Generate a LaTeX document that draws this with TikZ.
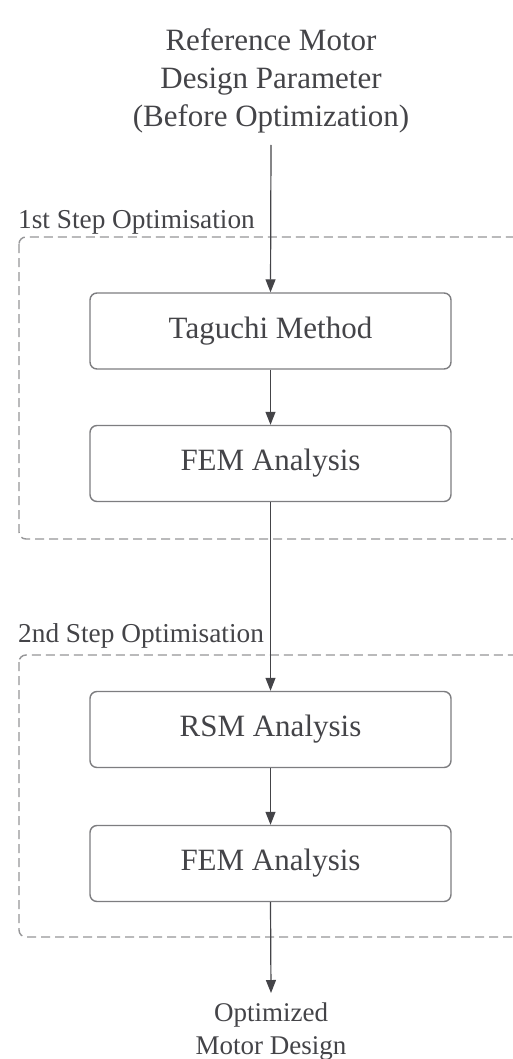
\documentclass[tikz,border=0pt]{standalone}
\usepackage{fontspec}
\setmainfont{Liberation Serif}
\usetikzlibrary{arrows.meta}
\definecolor{inkgray}{RGB}{68,68,72}
\definecolor{boxgray}{RGB}{125,125,128}
\definecolor{dashgray}{RGB}{150,150,152}
\tikzset{
  stepbox/.style={draw=boxgray, line width=1.4pt, rounded corners=7pt,
    minimum width=361pt, minimum height=76pt, inner sep=0pt,
    text=inkgray, font=\fontsize{31}{36}\selectfont},
  groupframe/.style={draw=dashgray, line width=1.4pt, dash pattern=on 9pt off 5pt,
    rounded corners=7pt},
  grouplabel/.style={anchor=base west, inner sep=0pt, text=inkgray,
    font=\fontsize{27.3}{32}\selectfont},
  flow/.style={draw=inkgray, line width=1.2pt,
    -{Triangle[length=13pt,width=10pt]}},
  plaintext/.style={inner sep=0pt, text=inkgray, align=center}
}
\begin{document}
\begin{tikzpicture}[x=1pt,y=1pt]
  \useasboundingbox[fill=white] (0,0) rectangle (513,-1059);

  % dashed frames of the two optimisation stages (open to the right)
  \begin{scope}
    \clip (0,0) rectangle (513,-1059);
    \draw[groupframe] (19,-237) rectangle (540,-539);
    \draw[groupframe] (19,-655) rectangle (540,-937);
  \end{scope}

  % starting design
  \node[plaintext, anchor=north, font=\fontsize{31}{38}\selectfont]
    (ref) at (271,-28) {Reference Motor\\Design Parameter\\(Before Optimization)};
  \coordinate (start) at (271,-145);

  % stage labels
  \node[grouplabel] (lab1) at (18,-229) {1st Step Optimisation};
  \node[grouplabel] (lab2) at (18,-642) {2nd Step Optimisation};

  % process steps
  \node[stepbox] (tag)  at (270.5,-331)   {Taguchi Method};
  \node[stepbox] (fem1) at (270.5,-463.5) {FEM Analysis};
  \node[stepbox] (rsm)  at (270.5,-729.5) {RSM Analysis};
  \node[stepbox] (fem2) at (270.5,-863.5) {FEM Analysis};

  % result
  \node[plaintext, anchor=north, inner ysep=10pt, font=\fontsize{27}{33}\selectfont]
    (out) at (271,-993) {Optimized\\Motor Design};

  % connectors
  \draw[flow] (start) -- (tag.north);
  \draw[flow] (tag.south) -- (fem1.north);
  \draw[flow] (fem1.south) -- (rsm.north);
  \draw[flow] (rsm.south) -- (fem2.north);
  \draw[flow] (fem2.south) -- (out.north);
\end{tikzpicture}
\end{document}
